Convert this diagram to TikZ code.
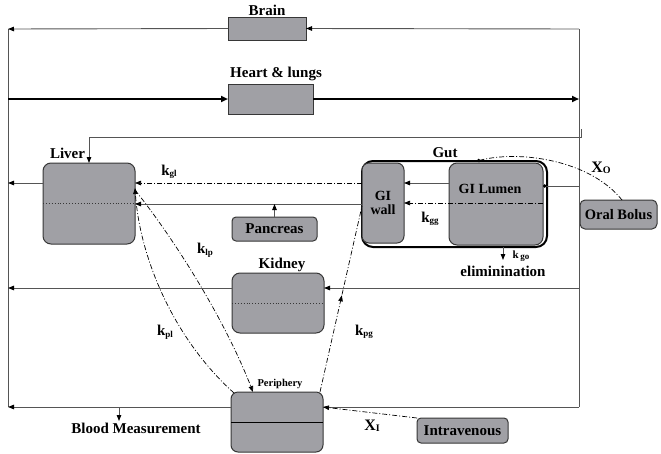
\documentclass[tikz,border=0pt]{standalone}
\usepackage{fontspec}
\setmainfont{Liberation Serif}
\usetikzlibrary{arrows.meta,decorations.markings}
\definecolor{boxfill}{RGB}{160,160,165}
\definecolor{boxline}{RGB}{55,55,55}
\definecolor{flowgray}{RGB}{85,85,85}
\newcommand\ksub[2]{#1\raisebox{-1.5pt}{\fontsize{9}{9}\selectfont #2}}
\begin{document}
\begin{tikzpicture}[x=1pt,y=-1pt,
  organ/.style={draw=boxline, fill=boxfill, line width=1pt, rounded corners=8pt, inner sep=0pt, outer sep=0pt},
  sqbox/.style={draw=boxline, fill=boxfill, line width=1pt, inner sep=0pt, outer sep=0pt},
  smallbox/.style={draw=boxline, fill=boxfill, line width=1pt, rounded corners=4pt, inner sep=0pt, outer sep=0pt, font=\fontsize{15}{15}\selectfont\bfseries},
  lbl/.style={font=\fontsize{15}{15}\selectfont\bfseries, inner sep=0pt},
  klbl/.style={font=\fontsize{15}{15}\selectfont\bfseries, inner sep=0pt},
  flow/.style={draw=flowgray, line width=0.9pt},
  tip/.style={-{Triangle[length=6pt,width=4.5pt,color=black]}},
  dd/.style={draw=black, line width=0.7pt, dash pattern=on 5pt off 2pt on 1pt off 2pt},
  midtip/.style={decoration={markings, mark=at position 0.52 with {\arrow{Triangle[length=6pt,width=4.5pt]}}}, postaction={decorate}},
]
\useasboundingbox (0,0) rectangle (661,453);

% frame coordinates
\coordinate (TL) at (8,29);
\coordinate (TR) at (579,29);
\coordinate (BL) at (8,407);
\coordinate (BR) at (579,407);
\coordinate (HL) at (8,99);
\coordinate (HR) at (579,99);

% boxes
\node[sqbox, minimum width=78pt, minimum height=23pt] (brain) at (267,28.5) {};
\node[lbl] (brainlbl) at (267,10) {Brain};
\node[sqbox, minimum width=85pt, minimum height=30pt] (heart) at (270.5,99) {};
\node[lbl] (heartlbl) at (276,74) {Heart \& lungs};

\node[organ, minimum width=92pt, minimum height=81pt] (liver) at (89,203.5) {};
\node[lbl] (liverlbl) at (67.5,153) {Liver};
\draw[boxline, dotted, line width=0.9pt] (liver.west) -- (liver.east);

\node[smallbox, minimum width=85pt, minimum height=24pt] (pancreas) at (274.5,229) {Pancreas};

\node[draw=black, line width=2pt, rounded corners=11pt, minimum width=185pt, minimum height=86pt, inner sep=0pt, outer sep=0pt] (gut) at (454.5,204) {};
\node[lbl] (gutlbl) at (445,153) {Gut};
\node[organ, rounded corners=7pt, minimum width=42pt, minimum height=80pt, align=center, font=\fontsize{14}{14}\selectfont\bfseries] (giwall) at (383,203) {GI\\wall};
\node[organ, minimum width=94pt, minimum height=82pt] (lumen) at (496,204) {};
\node[lbl, font=\fontsize{14}{14}\selectfont\bfseries] (lumenlbl) at (490,189) {GI Lumen};

\node[smallbox, rounded corners=5pt, minimum width=77pt, minimum height=29pt, font=\fontsize{14.5}{14.5}\selectfont\bfseries] (oral) at (618.5,214.5) {Oral Bolus};

\node[organ, minimum width=92pt, minimum height=60pt] (kidney) at (278,303) {};
\node[lbl] (kidneylbl) at (282,265) {Kidney};
\draw[boxline, dotted, line width=0.9pt] (kidney.west) -- (kidney.east);

\node[organ, rounded corners=7pt, minimum width=92pt, minimum height=60pt] (periphery) at (277,422) {};
\node[lbl, font=\fontsize{10.5}{10.5}\selectfont\bfseries] (perilbl) at (280,384) {Periphery};
\draw[black, line width=0.9pt] (periphery.west) -- (periphery.east);

\node[smallbox, minimum width=91pt, minimum height=25pt] (iv) at (462.5,430.5) {Intravenous};

% frame lines
\draw[flow] (TL) -- (BL);
\draw[flow] (TR) -- (BR);

% brain
\draw[flow, tip] (TR) -- (brain.east);
\draw[flow, tip] (brain.west) -- (TL);

% heart
\draw[black, line width=1.8pt, -{Triangle[length=7pt,width=6pt]}] (HL) -- (heart.west);
\draw[black, line width=1.8pt, -{Triangle[length=7pt,width=6pt]}] (heart.east) -- (HR);

% liver feed
\coordinate (lf1) at (581,129);
\draw[flow, tip] (lf1) -- (581,137) -- (89,137) -- (liver.north);
\draw[flow, tip] (liver.west |- 0,183) -- (TL |- 0,183);

% gut to liver
\draw[dd, tip] (gut.west |- 0,183) -- (liver.east |- 0,183);
\node[klbl] (kgl) at (169,172) {\ksub{k}{gl}};
\draw[flow, tip] (gut.west |- 0,204) -- (liver.east |- 0,204);
\draw[flow, tip] (pancreas.north) -- (pancreas.north |- 0,204);

% inside gut
\draw[flow, tip] (lumen.west |- 0,183) -- (giwall.east |- 0,183);
\draw[dd, tip] (lumen.east |- 0,203) -- (giwall.east |- 0,203);
\node[klbl] (kgg) at (430,219) {\ksub{k}{gg}};
\draw[flow, -{Circle[length=3.5pt,color=black]}] (TR |- 0,186) -- (lumen.east |- 0,186);

% elimination
\draw[flow, tip] (gut.south -| 503,0) -- (503,260);
\node[font=\fontsize{11}{11}\selectfont\bfseries, inner sep=0pt] (kgo) at (521,256) {\ksub{k}{\,go}};
\node[lbl] (elim) at (503,271) {eliminination};

% oral bolus
\draw[dd, -{Circle[length=3.5pt]}] (oral.north -| 622,0) .. controls (590,160) and (520,150) .. (gut.north -| 477,0);
\node[klbl, font=\fontsize{16}{16}\selectfont\bfseries] (xo) at (601,168) {X\raisebox{-1pt}{\fontsize{10}{10}\selectfont O}};

% kidney
\draw[flow, tip] (TR |- 0,288) -- (kidney.east |- 0,288);
\draw[flow, tip] (kidney.west |- 0,288) -- (TL |- 0,288);

% periphery connections
\draw[flow] (BR) -- (periphery.east |- BR);
\draw[flow, tip] (periphery.west |- BL) -- (BL);
\coordinate (bm) at (119,407);
\draw[flow, tip] (bm) -- (119,421);
\node[lbl] (bmlbl) at (136,428) {Blood Measurement};

\draw[dd, tip] (iv.north west) -- (periphery.east |- 0,407);
\node[klbl, font=\fontsize{16}{16}\selectfont\bfseries] (xi) at (372,426) {X\raisebox{-1pt}{\fontsize{10}{10}\selectfont I}};

% liver <-> periphery
\draw[dd, tip] (234,393) .. controls (175,340) and (140,260) .. (liver.east |- 0,188);
\draw[dd, tip] (liver.east |- 0,190) .. controls (175,240) and (225,320) .. (periphery.north -| 253,0);
\node[klbl] (klp) at (205,250) {\ksub{k}{lp}};
\node[klbl] (kpl) at (165,332) {\ksub{k}{pl}};

% periphery -> gut
\draw[dd, midtip] (periphery.north -| 320,0) -- (gut.west |- 0,206);
\node[klbl] (kpg) at (364,332) {\ksub{k}{pg}};

\end{tikzpicture}
\end{document}
